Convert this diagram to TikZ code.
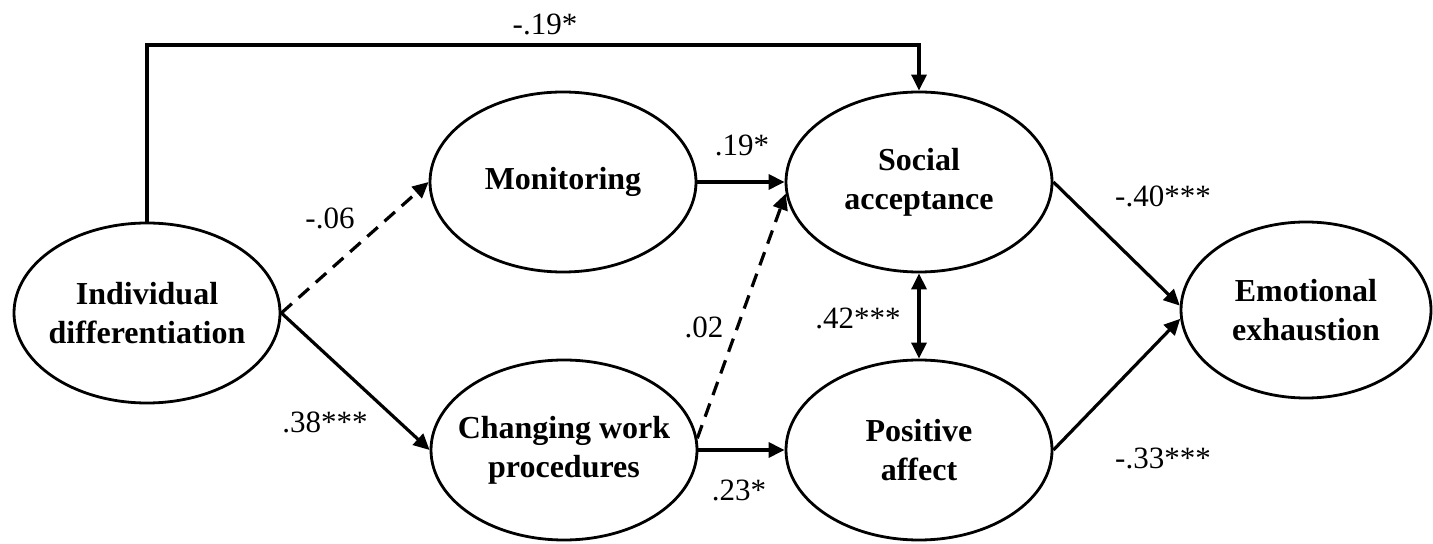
\documentclass[tikz,border=0pt]{standalone}
\usepackage{fontspec}
\setmainfont{Liberation Serif}
\usetikzlibrary{shapes.geometric,arrows.meta}

\begin{document}
\begin{tikzpicture}[x=0.5pt,y=-0.5pt,
  latent/.style={draw, ellipse, line width=1.4pt, minimum width=133pt,
    minimum height=90pt, inner xsep=-8pt, inner ysep=0pt, align=center,
    font=\fontsize{16}{19.5}\selectfont\bfseries},
  effect/.style={line width=1.6pt, -{Triangle[length=8pt,width=7.5pt]}},
  covar/.style={line width=1.6pt, {Triangle[length=8pt,width=7.5pt]}-{Triangle[length=8pt,width=7.5pt]}},
  weak/.style={effect, dash pattern=on 7pt off 4.5pt},
  coef/.style={inner sep=0pt, font=\fontsize{15.5}{18}\selectfont}]
\useasboundingbox (0,0) rectangle (1433,544);
% latent variables
\node [latent] (indiv) at (147,313) {Individual\\differentiation};
\node [latent] (monit) at (563,182) {Monitoring};
\node [latent] (chwork) at (564,450) {Changing work\\procedures};
\node [latent] (socacc) at (919,182) {Social\\acceptance};
\node [latent] (posaff) at (919,450) {Positive\\affect};
\node [latent, minimum width=125pt, minimum height=88pt] (emoexh) at (1306,310) {Emotional\\exhaustion};
% paths
\coordinate (corner) at (919,45);
\draw [effect] (indiv.north) |- (corner) -- (socacc.north);
\draw [weak] (indiv.east) -- (monit.west);
\draw [effect] (indiv.east) -- (chwork.west);
\draw [effect] (monit.east) -- (socacc.west);
\draw [weak] (chwork.5) -- (socacc.185);
\draw [effect] (chwork.east) -- (posaff.west);
\draw [covar] (socacc.south) -- (posaff.north);
\draw [effect] (socacc.east) -- (emoexh.178);
\draw [effect] (posaff.east) -- (emoexh.184);
% coefficients
\node [coef] (c-ind-soc) at (545,24) {-.19*};
\node [coef] (c-ind-mon) at (330,218) {-.06};
\node [coef] (c-ind-chw) at (325,422) {.38***};
\node [coef] (c-mon-soc) at (742,145) {.19*};
\node [coef] (c-chw-soc) at (704,327) {.02};
\node [coef] (c-soc-pos) at (858,318) {.42***};
\node [coef] (c-chw-pos) at (739,490) {.23*};
\node [coef] (c-soc-emo) at (1163,196) {-.40***};
\node [coef] (c-pos-emo) at (1163,458) {-.33***};
\end{tikzpicture}
\end{document}
